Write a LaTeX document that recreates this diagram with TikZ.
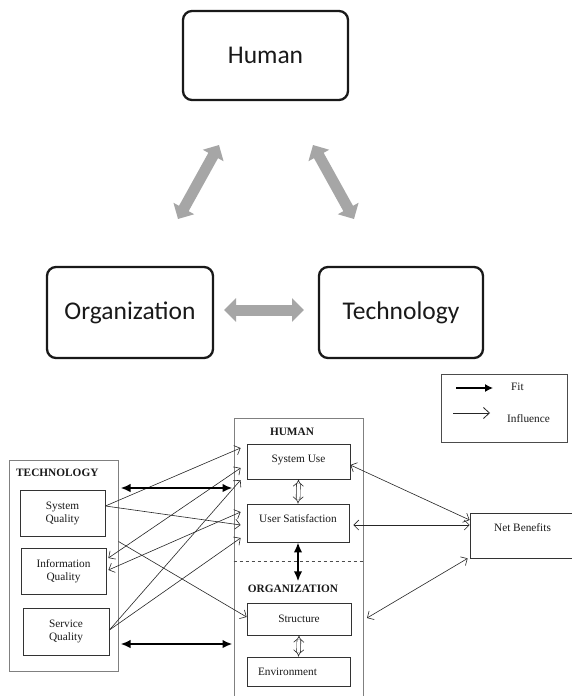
\documentclass[tikz,border=0pt]{standalone}
\usepackage{fontspec}
\setmainfont{Liberation Serif}
\newfontfamily\calibri{Carlito}
\usetikzlibrary{arrows.meta,calc}
\begin{document}
\begin{tikzpicture}[x=1pt,y=-1pt,
  infl/.tip={Straight Barb[length=5pt,width=10pt]},
  fitk/.tip={Latex[length=10pt,width=8.5pt]},
  topbox/.style={draw=black!90, line width=2.3pt, rounded corners=9pt, inner sep=0pt,
    font=\calibri\fontsize{25.5}{30}\selectfont, text=black!90},
  grayarrow/.style={draw=black!35, line width=11pt,
    {Triangle[length=12pt,width=23pt]}-{Triangle[length=12pt,width=23pt]}},
  outerbox/.style={draw=black!50, line width=1pt, inner sep=0pt},
  innerbox/.style={draw=black!80, line width=0.8pt, inner sep=0pt, align=center,
    font=\fontsize{11.3}{13}\selectfont, text=black!90},
  titletext/.style={font=\bfseries\fontsize{11.3}{13}\selectfont, inner sep=0pt, text=black!90},
  plaintext/.style={font=\fontsize{11.3}{13}\selectfont, inner sep=0pt, text=black!90},
  influence/.style={draw=black!85, line width=0.6pt},
  fitline/.style={draw=black, line width=2pt, fitk-fitk},
  hollow/.style={draw=black!85, line width=0.6pt, double=white, double distance=3.2pt, Implies-Implies}
]
\path[fill=white, use as bounding box] (0,0) rectangle (571,696);

% ---------- top diagram ----------
\node[topbox, minimum width=165pt, minimum height=89pt] (hum) at (265.5,55.5) {Human};
\node[topbox, minimum width=166pt, minimum height=91pt] (org) at (130,312.5) {Organization};
\node[topbox, minimum width=164pt, minimum height=91pt] (tec) at (401,312.5) {Technology};

\coordinate (l1) at (178,219); \coordinate (l2) at (219,145);
\coordinate (r1) at (313,145); \coordinate (r2) at (354,219);
\coordinate (h1) at (224,310); \coordinate (h2) at (304,310);
\draw[grayarrow] (l1) -- (l2);
\draw[grayarrow] (r1) -- (r2);
\draw[grayarrow] (h1) -- (h2);

% ---------- legend ----------
\node[draw=black!70, line width=0.8pt, minimum width=126pt, minimum height=68pt, inner sep=0pt] (leg) at (504,408) {};
\coordinate (fa1) at (456,388); \coordinate (fa2) at (493,388);
\coordinate (ia1) at (453,413); \coordinate (ia2) at (490,413);
\draw[draw=black, line width=1.3pt, -{Latex[length=8pt,width=8pt]}] (fa1) -- (fa2);
\draw[influence, line width=0.8pt, -{Straight Barb[length=6pt,width=11pt]}] (ia1) -- (ia2);
\node[plaintext, anchor=west] (fittxt) at (511,387) {Fit};
\node[plaintext, anchor=west] (inftxt) at (507,419) {Influence};

% ---------- technology ----------
\node[outerbox, minimum width=109pt, minimum height=211pt] (techbox) at (63.5,565.5) {};
\node[titletext, anchor=west] (techlbl) at (16,473) {TECHNOLOGY};
\node[innerbox, minimum width=85pt, minimum height=46pt] (sq) at (62.5,513) {System\\Quality};
\node[innerbox, minimum width=85pt, minimum height=46pt] (iq) at (63.5,571) {Information\\Quality};
\node[innerbox, minimum width=86pt, minimum height=47pt] (seq) at (66,631.5) {Service\\Quality};

% ---------- human / organization ----------
\node[outerbox, minimum width=129pt, minimum height=282pt] (humbox) at (298.5,559) {};
\node[titletext] (humlbl) at (292,432) {HUMAN};
\node[innerbox, minimum width=103pt, minimum height=35pt, text height=8pt, text depth=7pt] (su) at (298.5,461.5) {System Use};
\node[innerbox, minimum width=102pt, minimum height=38pt, text height=8pt, text depth=10pt] (us) at (298,523) {User Satisfaction};
\coordinate (dashy) at (0,561);
\draw[dashed, draw=black!70, line width=0.7pt] (humbox.west |- dashy) -- (humbox.east |- dashy);
\node[titletext] (orglbl) at (293,589) {ORGANIZATION};
\node[innerbox, minimum width=104pt, minimum height=32pt] (st) at (299,619) {Structure};
\node[innerbox, minimum width=103pt, minimum height=29pt, text width=81pt, inner xsep=11pt, align=left] (env) at (298.5,671.5) {Environment};

% ---------- net benefits ----------
\node[innerbox, minimum width=105pt, minimum height=45pt, text height=8pt, text depth=17pt] (nb) at (522.5,535.5) {Net Benefits};
\coordinate (nbend) at (367,618);

% ---------- influence arrows ----------
\draw[influence, -infl] ($(sq.east)+(0,-7)$) -- ($(su.west)+(-6,-13.5)$);
\draw[influence, -infl] ($(sq.east)+(0,-7)$) -- ($(us.west)+(-6,2)$);
\draw[influence, infl-infl] ($(iq.east)+(2,-13)$) -- ($(su.west)+(-6,6.5)$);
\draw[influence, infl-infl] ($(iq.east)+(2,-1)$) -- ($(us.west)+(-6,-11)$);
\draw[influence, -infl] ($(seq.east)+(0,-1.5)$) -- ($(su.west)+(-6,18.5)$);
\draw[influence, -infl] ($(seq.east)+(0,-1.5)$) -- ($(us.west)+(-6,15)$);
\draw[influence, -infl] ($(techbox.east)+(0,-24)$) -- ($(st.west)+(0,-2)$);
\draw[influence, infl-infl] ($(su.east)+(0,3.5)$) -- ($(nb.west)+(0,-15.5)$);
\draw[influence, infl-infl] ($(us.east)+(4,2)$) -- ($(nb.west)+(0,-10.5)$);
\draw[influence, infl-infl] ($(nb.south west)+(-2,0)$) -- (nbend);

% ---------- fit arrows ----------
\draw[fitline] ($(techbox.east)+(2,-77.5)$) -- ($(humbox.west)+(-1,-71)$);
\draw[fitline] ($(techbox.east)+(2,78.5)$) -- ($(humbox.west)+(-1,85)$);
\draw[fitline, line width=2.3pt] (us.south) -- ($(us.south)+(0,39)$);

% ---------- hollow arrows ----------
\draw[hollow] (su.south) -- (us.north);
\draw[hollow] (st.south) -- (env.north);
\end{tikzpicture}
\end{document}
